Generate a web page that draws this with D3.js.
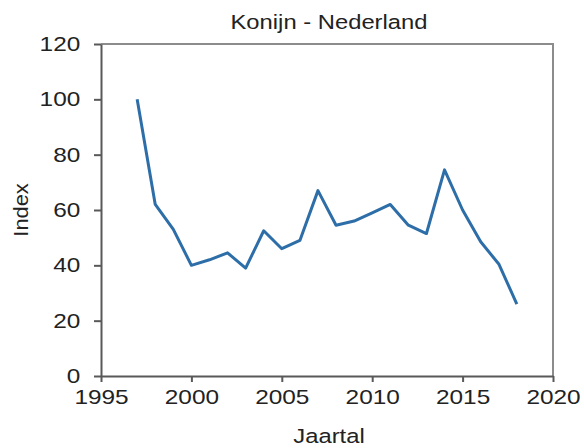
<!DOCTYPE html>
<html><head><meta charset="utf-8">
<script src="https://cdn.jsdelivr.net/npm/d3@7"></script>
<style>
html,body{margin:0;padding:0;background:#fff;}
svg{display:block;font-family:"Liberation Sans",Arial,sans-serif;}
</style></head>
<body><svg id="c" width="584" height="448"></svg>
<script>
const years = [1997,1998,1999,2000,2001,2002,2003,2004,2005,2006,2007,2008,2009,2010,2011,2012,2013,2014,2015,2016,2017,2018];
const index = [100,62,53,40,42,44.5,39,52.5,46,49,67,54.5,56,59,62,54.5,51.5,74.5,60,48.5,40.5,26];
const xTicks = [1995,2000,2005,2010,2015,2020];
const yTicks = [0,20,40,60,80,100,120];
const title = "Konijn - Nederland";
const xTitle = "Jaartal";
const yTitle = "Index";

const m = {l:101, r:553, t:44, b:376};
const sx = 1.22; // horizontal stretch of text seen in the reference
const svg = d3.select("#c");
const x = d3.scaleLinear().domain([1995,2020]).range([m.l,m.r]);
const y = d3.scaleLinear().domain([0,120]).range([m.b,m.t]);

svg.append("path")
  .attr("d",`M${m.l},${m.t}H${m.r}V${m.b}`)
  .attr("fill","none").attr("stroke","#8c8c8c").attr("stroke-width",2);

const fs = 20;
const xa = svg.append("g").attr("transform",`translate(0,${m.b})`)
  .call(d3.axisBottom(x).tickValues(xTicks).tickFormat(d3.format("d")).tickSizeInner(6).tickSizeOuter(0).tickPadding(8));
const ya = svg.append("g").attr("transform",`translate(${m.l},0)`)
  .call(d3.axisLeft(y).tickValues(yTicks).tickSizeInner(7).tickSizeOuter(0).tickPadding(10));
[xa,ya].forEach(a=>{
  a.select(".domain").attr("stroke","#595959").attr("stroke-width",2);
  a.selectAll(".tick line").attr("stroke","#595959").attr("stroke-width",2);
  a.selectAll(".tick text").attr("fill","#222").style("font-size",fs+"px")
    .style("font-family","Liberation Sans, Arial, sans-serif")
    .attr("transform",`scale(${sx},1)`);
});

const line = d3.line().x((d,i)=>x(years[i])).y(d=>y(d));
svg.append("path").datum(index)
  .attr("d",line)
  .attr("fill","none").attr("stroke","#2e6ea8").attr("stroke-width",3).attr("stroke-linejoin","round");

svg.append("text").attr("transform",`translate(329,29) scale(${sx},1)`).attr("text-anchor","middle")
  .style("font-size","19.5px").attr("fill","#222").text(title);
svg.append("text").attr("transform",`translate(329,443) scale(${sx},1)`).attr("text-anchor","middle")
  .style("font-size","19.5px").attr("fill","#222").text(xTitle);
svg.append("text").attr("transform",`translate(28,210) rotate(-90) scale(1.12,1)`).attr("text-anchor","middle")
  .style("font-size","19.5px").attr("fill","#222").text(yTitle);
</script>
</body></html>
